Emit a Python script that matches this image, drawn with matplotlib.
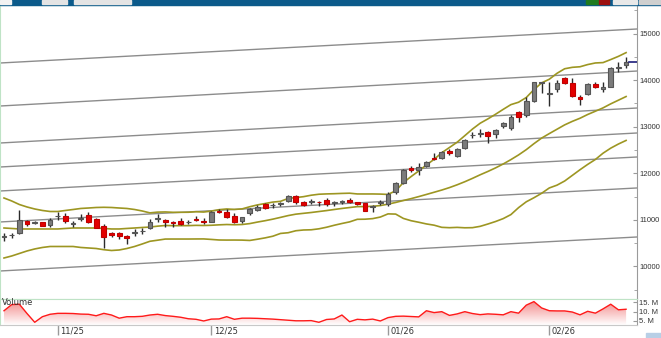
import numpy as np
import pandas as pd
import matplotlib.pyplot as plt
from matplotlib.patches import Rectangle
from matplotlib.colors import LinearSegmentedColormap
import matplotlib.transforms as mtransforms

# daily candles
opens = [10635, 10665, 10712, 10976, 10933, 10948, 10890, 11073, 11090, 10919,
         11028, 11105, 11019, 10875, 10712, 10712, 10653, 10727, 10755, 10832,
         11028, 10998, 10948, 10983, 10944, 11019, 10983, 10961, 11197, 11163,
         11084, 10983, 11142, 11212, 11335, 11313, 11350, 11412, 11519, 11391,
         11384, 11391, 11427, 11363, 11384, 11427, 11378, 11356, 11277, 11363,
         11341, 11604, 11798, 12112, 12071, 12157, 12335, 12322, 12479, 12371,
         12536, 12815, 12852, 12893, 12837, 13015, 12972, 13316, 13251, 13558,
         13938, 13702, 13803, 14039, 13938, 13637, 13695, 13916, 13803, 13862,
         14270, 14324]
closes = [10644, 10676, 10998, 10906, 10944, 10875, 11004, 11084, 10976, 10933,
          11041, 10961, 10832, 10627, 10676, 10661, 10605, 10740, 10766, 10961,
          11041, 10961, 10925, 10906, 10955, 10998, 10948, 11176, 11163, 11069,
          10948, 11056, 11227, 11283, 11262, 11324, 11363, 11513, 11378, 11320,
          11395, 11378, 11335, 11375, 11397, 11391, 11335, 11197, 11290, 11378,
          11556, 11785, 12071, 12071, 12142, 12249, 12301, 12464, 12430, 12521,
          12715, 12826, 12865, 12800, 12929, 13073, 13208, 13208, 13551, 13949,
          13953, 13713, 13938, 13944, 13659, 13584, 13916, 13862, 13862, 14253,
          14285, 14399]
highs = [10719, 10725, 11212, 10998, 10983, 10961, 11034, 11176, 11142, 10976,
         11120, 11163, 11034, 10906, 10746, 10746, 10665, 10805, 10820, 11012,
         11120, 11012, 10983, 11034, 10998, 11084, 11034, 11197, 11227, 11227,
         11142, 11069, 11249, 11320, 11356, 11369, 11391, 11534, 11534, 11412,
         11442, 11405, 11463, 11412, 11427, 11463, 11391, 11369, 11320, 11427,
         11599, 11820, 12086, 12157, 12228, 12264, 12436, 12485, 12515, 12536,
         12736, 12893, 12944, 12914, 12940, 13107, 13251, 13337, 13644, 13966,
         13966, 13959, 14002, 14073, 14052, 13680, 13931, 13953, 13959, 14275,
         14399, 14496]
lows = [10547, 10605, 10691, 10875, 10906, 10862, 10841, 10998, 10925, 10855,
        10983, 10925, 10820, 10404, 10627, 10590, 10476, 10653, 10697, 10805,
        10948, 10855, 10855, 10890, 10911, 10983, 10906, 10948, 11142, 11034,
        10925, 10940, 11105, 11190, 11227, 11249, 11305, 11391, 11335, 11299,
        11335, 11305, 11299, 11305, 11335, 11369, 11320, 11180, 11163, 11309,
        11299, 11556, 11770, 12033, 11964, 12142, 12286, 12301, 12393, 12343,
        12521, 12751, 12786, 12657, 12751, 12966, 12929, 13107, 13208, 13537,
        13717, 13444, 13745, 13916, 13637, 13466, 13680, 13841, 13745, 13852,
        14184, 14253]
# volume in millions
volume = [10.5, 13.8, 14.0, 9.0, 4.3, 7.3, 8.6, 9.1, 9.1, 9.0,
          8.7, 8.6, 7.8, 9.1, 8.2, 6.5, 7.3, 7.3, 7.5, 8.2,
          8.6, 7.9, 7.5, 7.0, 6.2, 5.9, 5.0, 6.0, 6.1, 7.3,
          5.9, 6.5, 6.5, 6.4, 6.2, 6.0, 5.7, 5.4, 5.1, 5.1,
          5.2, 4.3, 5.8, 6.1, 8.2, 4.6, 5.9, 5.6, 6.0, 5.0,
          6.8, 7.5, 7.6, 7.4, 7.2, 10.5, 9.5, 10.0, 8.0, 8.8,
          10.0, 9.0, 8.4, 8.8, 8.6, 8.3, 10.0, 9.2, 13.5, 15.4,
          12.0, 10.5, 10.4, 10.4, 9.8, 8.3, 10.2, 9.2, 11.5, 14.0,
          11.0, 11.3]

# bollinger values for the first 19 bars (their history is off screen)
bb_upper_head = [11470, 11406, 11330, 11277, 11234, 11202, 11180, 11180, 11202, 11223,
                 11245, 11255, 11266, 11270, 11266, 11255, 11245, 11223, 11191]
bb_mid_head = [10826, 10816, 10805, 10805, 10805, 10805, 10805, 10805, 10816, 10826,
               10826, 10826, 10826, 10816, 10805, 10805, 10816, 10826, 10837]
bb_lower_head = [10182, 10225, 10279, 10333, 10376, 10408, 10429, 10429, 10429, 10429,
                 10408, 10397, 10386, 10360, 10343, 10354, 10386, 10429, 10483]

# hand drawn channel lines: price at left edge and right edge
channel_left = [14367, 13444, 12650, 12135, 11620, 10955, 9903]
channel_right = [15097, 14195, 13401, 12865, 12350, 11685, 10633]

date_ticks = [7, 27, 50, 71]
date_labels = ['11/25', '12/25', '01/26', '02/26']
price_ticks = [10000, 11000, 12000, 13000, 14000, 15000]
vol_ticks = [5, 10, 15]
vol_labels = ['5. M', '10. M', '15. M']

n = len(closes)
idx = np.arange(n)
xmin, xmax = -0.52, 82.42

c = pd.Series(closes, dtype=float)
mid = c.rolling(20).mean()
sd = c.rolling(20).std(ddof=0)
upper = (mid + 2 * sd).values
lower = (mid - 2 * sd).values
mid = mid.values
upper[:19] = bb_upper_head
mid[:19] = bb_mid_head
lower[:19] = bb_lower_head

W, H = 661, 338
fig = plt.figure(figsize=(W / 100, H / 100), dpi=100)
fig.patch.set_facecolor('white')

green = '#bfe3c6'
axis_gray = '#9a9a9a'
axis_font = ['Liberation Sans', 'DejaVu Sans']

# price panel
ax = fig.add_axes([0, 1 - 299 / H, 637 / W, 294 / H])
ax.set_xlim(xmin, xmax)
ax.set_ylim(9302, 15612)
for s in ['left', 'top', 'bottom']:
    ax.spines[s].set_color(green)
ax.spines['right'].set_color(axis_gray)
ax.set_xticks([])
ax.yaxis.tick_right()
ax.set_yticks(price_ticks)
ax.set_yticks(np.arange(9500, 15600, 500), minor=True)
ax.set_yticklabels([str(p) for p in price_ticks], family=axis_font)
ax.tick_params(axis='y', which='both', direction='in', length=3, pad=1.5,
               labelsize=5.5, labelcolor='#333333', color=axis_gray)
ax.tick_params(axis='y', which='minor', length=2)

for a, b in zip(channel_left, channel_right):
    ax.plot([xmin, xmax], [a, b], color='#8c8c8c', lw=1.0, zorder=1)

olive = '#9d9622'
ax.plot(idx, upper, color=olive, lw=1.2, zorder=2)
ax.plot(idx, mid, color=olive, lw=1.2, zorder=2)
ax.plot(idx, lower, color=olive, lw=1.2, zorder=2)

opens_a = np.array(opens, dtype=float)
closes_a = np.array(closes, dtype=float)
up = closes_a >= opens_a
ax.vlines(idx, lows, highs, color='#2a2a2a', lw=1.0, zorder=3)
ax.bar(idx[up], closes_a[up] - opens_a[up], bottom=opens_a[up], width=0.62,
       color='#7b7b7b', edgecolor='#555555', lw=0.8, zorder=4)
ax.bar(idx[~up], closes_a[~up] - opens_a[~up], bottom=opens_a[~up], width=0.62,
       color='#e30000', edgecolor='#c00000', lw=0.8, zorder=4)

# last price marker
ax.plot([n - 0.6, xmax], [closes[-1], closes[-1]], color='#1c1c7a', lw=1.2, zorder=5)

# volume panel
vax = fig.add_axes([0, 1 - 324.7 / H, 637 / W, 25.7 / H])
vax.set_xlim(xmin, xmax)
vax.set_ylim(3, 16.8)
vax.spines['top'].set_color(green)
vax.spines['left'].set_color(green)
vax.spines['right'].set_color(axis_gray)
vax.spines['bottom'].set_color('#c8c8c8')
vax.yaxis.tick_right()
vax.set_yticks(vol_ticks)
vax.set_yticklabels(vol_labels, family=axis_font)
vax.tick_params(axis='y', direction='in', length=3, pad=1.5, labelsize=5.5,
                labelcolor='#333333', color=axis_gray)
vax.set_xticks(date_ticks)
vax.set_xticklabels([])
vax.tick_params(axis='x', direction='out', length=7, width=1, color='#9a9a9a')

poly = vax.fill_between(idx, volume, 0, color='none', lw=0)
cmap = LinearSegmentedColormap.from_list('volfill', ['#ffffff', '#f38c8c'])
grad = np.linspace(0, 1, 256).reshape(-1, 1)
im = vax.imshow(grad, extent=[xmin, xmax, 3, max(volume)], origin='lower',
                aspect='auto', cmap=cmap, zorder=1)
im.set_clip_path(poly.get_paths()[0], transform=vax.transData)
vax.plot(idx, volume, color='#ff1a1a', lw=1.0, zorder=2)
vax.text(0.003, 0.85, 'Volume', transform=vax.transAxes, fontsize=6,
         color='#333333', va='center', ha='left')

trans = mtransforms.blended_transform_factory(vax.transData, vax.transAxes)
for t, lab in zip(date_ticks, date_labels):
    vax.text(t + 0.3, -0.24, lab, transform=trans, fontsize=6, color='#333333',
             ha='left', va='center', clip_on=False)

# window header strip
fig.add_artist(Rectangle((0, 1 - 4.5 / H), 1, 4.5 / H, transform=fig.transFigure,
                         color='#0b5a8a', zorder=10))
for x0, w, col in [(0, 10.5, '#f2f2f2'), (42, 25, '#e4e4e4'), (74, 57, '#e4e4e4'),
                   (586, 12, '#1f7a1f'), (599, 10, '#9c1010'), (613, 24, '#e8e8e8'),
                   (639, 22, '#cfcfcf')]:
    fig.add_artist(Rectangle((x0 / W, 1 - 4.2 / H), w / W, 3.8 / H,
                             transform=fig.transFigure, color=col, zorder=11))

# bottom right scroll buttons
fig.add_artist(Rectangle((646 / W, 0), 15 / W, 5.5 / H, transform=fig.transFigure,
                         color='#b8cfe6', zorder=10))

fig.savefig('out.png', dpi=100)
